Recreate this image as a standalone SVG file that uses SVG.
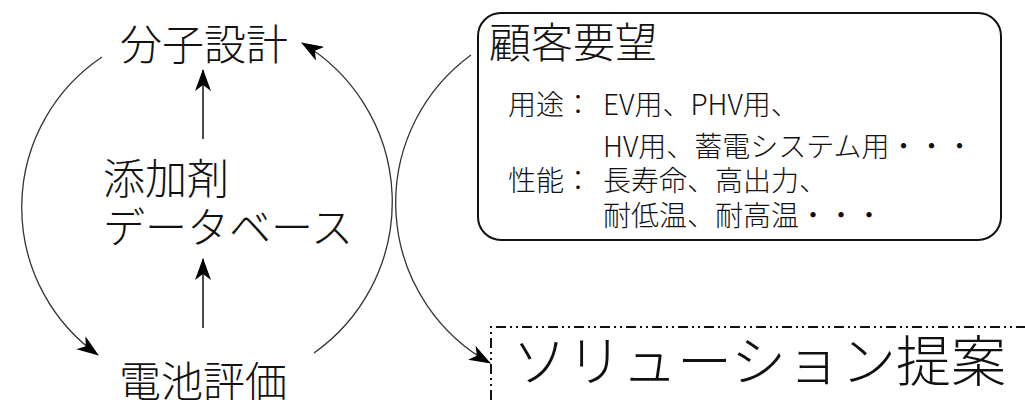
<svg xmlns="http://www.w3.org/2000/svg" width="1025" height="400" viewBox="0 0 1025 400">
<style>
  text { font-family: "Noto Sans CJK JP", "Noto Sans", sans-serif; font-weight: 300; fill: #111; }
  .big { font-size: 42px; }
  .mid { font-size: 28px; }
  .huge { font-size: 55px; }
  .arc { fill: none; stroke: #333; stroke-width: 1.3; }
  .vline { fill: none; stroke: #111; stroke-width: 1.5; }
</style>
<defs>
  <marker id="ah" markerUnits="userSpaceOnUse" viewBox="0 0 22 16" refX="21" refY="8" markerWidth="22" markerHeight="16" orient="auto">
    <path d="M0,0 L22,8 L0,16 L6,8 Z" fill="#000"/>
  </marker>
</defs>
<rect width="1025" height="400" fill="#fff"/>
<g id="connectors">
  <path class="arc" d="M102,57 A181,181 0 0 0 98,355" marker-end="url(#ah)"/>
  <path class="arc" d="M314,353 A185,185 0 0 0 302,43" marker-end="url(#ah)"/>
  <path class="arc" d="M471,55 A183,183 0 0 0 490,363" marker-end="url(#ah)"/>
  <path class="vline" d="M203,139 L203,70" marker-end="url(#ah)"/>
  <path class="vline" d="M203,328 L203,259" marker-end="url(#ah)"/>
</g>
<g id="node-bunshi">
  <text class="big" x="204" y="60" text-anchor="middle">分子設計</text>
</g>
<g id="node-database">
  <text class="big" x="103" y="194">添加剤<tspan x="103" y="243">データベース</tspan></text>
</g>
<g id="node-denchi">
  <text class="big" x="203" y="397" text-anchor="middle">電池評価</text>
</g>
<g id="node-customer">
  <rect x="478" y="13" width="523" height="227" rx="23" ry="23" fill="none" stroke="#111" stroke-width="2"/>
  <text class="big" x="489" y="58">顧客要望</text>
  <text class="mid" x="508" y="115">用途：<tspan x="603">EV用、PHV用、</tspan><tspan x="603" y="157">HV用、蓄電システム用・・・</tspan><tspan x="508" y="191">性能：</tspan><tspan x="603">長寿命、高出力、</tspan><tspan x="603" y="226">耐低温、耐高温・・・</tspan></text>
</g>
<g id="node-solution">
  <path d="M491,400 L491,327 L1025,327" fill="none" stroke="#111" stroke-width="2" stroke-dasharray="10 4 2 4 2 4"/>
  <text class="huge" x="512" y="381">ソリューション提案</text>
</g>
</svg>
